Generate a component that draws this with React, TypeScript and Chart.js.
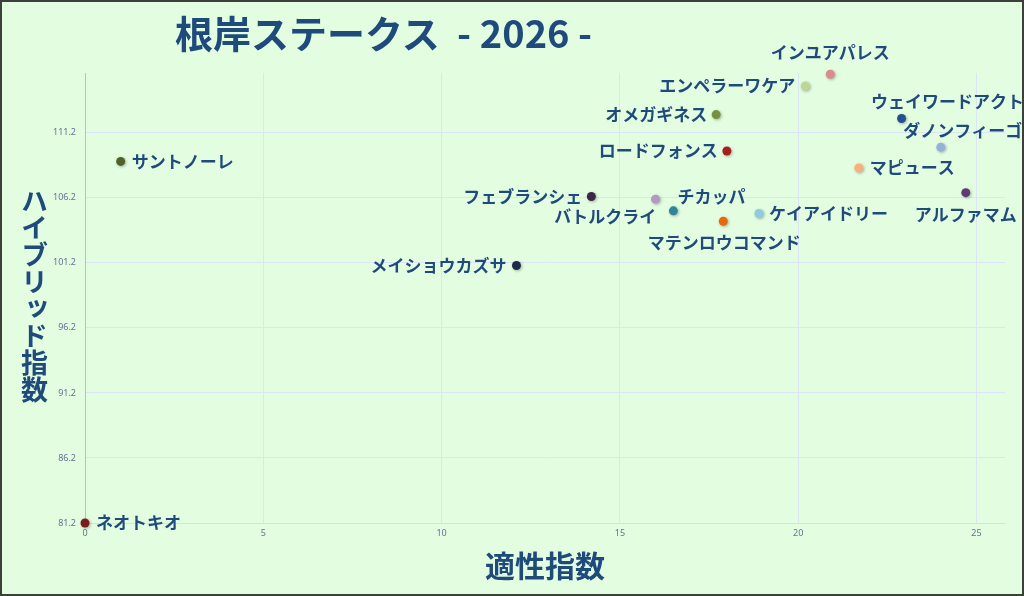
import { useEffect, useRef } from "react";
import { Chart, registerables } from "chart.js";

Chart.register(...registerables);

const horses = [
  "ネオトキオ", "サントノーレ", "メイショウカズサ", "フェブランシェ",
  "チカッパ", "バトルクライ", "マテンロウコマンド", "ケイアイドリー",
  "オメガギネス", "ロードフォンス", "エンペラーワケア", "インユアパレス",
  "ウェイワードアクト", "ダノンフィーゴ", "マピュース", "アルファマム",
];

// 適性指数
const aptitude = [
  0, 1.0, 12.1, 14.2,
  16.0, 16.5, 17.9, 18.9,
  17.7, 18.0, 20.2, 20.9,
  22.9, 24.0, 21.7, 24.7,
];

// ハイブリッド指数
const hybrid = [
  81.2, 109.0, 101.0, 106.3,
  106.1, 105.2, 104.4, 105.0,
  112.6, 109.8, 114.8, 115.7,
  112.3, 110.1, 108.5, 106.6,
];

const xTicks = [0, 5, 10, 15, 20, 25];
const yTicks = [81.2, 86.2, 91.2, 96.2, 101.2, 106.2, 111.2];

const pointColors = [
  "#7a1c1c", "#4f6228", "#1d2b48", "#3d2748",
  "#b497c6", "#2f859a", "#e8680a", "#8fcbe0",
  "#76933c", "#a3201f", "#c0d598", "#dc8a8c",
  "#24508f", "#93b1da", "#f9b07c", "#5c3a72",
];

// label placement: [textAlign, dx, dy] from the point
const labelPlace: [CanvasTextAlign, number, number][] = [
  ["left", 11, 0], ["left", 11, 0], ["right", -10, 0], ["right", -9, 0],
  ["left", 22, -3], ["right", -17, 6], ["center", 1, 21], ["left", 10, 0],
  ["right", -9, 0], ["right", -9, 0], ["right", -10, 0], ["center", 0, -22],
  ["center", 46, -17], ["center", 22, -17], ["left", 11, 0], ["center", 0, 22],
];

const navy = "#1f4a7c";

const labelPlugin = {
  id: "horseLabels",
  beforeDatasetsDraw(chart: Chart) {
    const ctx = chart.ctx;
    ctx.save();
    ctx.shadowColor = "rgba(0,0,0,0.3)";
    ctx.shadowBlur = 3;
    ctx.shadowOffsetX = 1;
    ctx.shadowOffsetY = 1;
  },
  afterDatasetsDraw(chart: Chart) {
    const ctx = chart.ctx;
    ctx.restore();
    const meta = chart.getDatasetMeta(0);
    ctx.save();
    ctx.font = "bold 17px 'Noto Sans CJK JP', sans-serif";
    ctx.fillStyle = navy;
    ctx.textBaseline = "middle";
    meta.data.forEach((pt, i) => {
      const [align, dx, dy] = labelPlace[i];
      ctx.textAlign = align;
      ctx.fillText(horses[i], pt.x + dx, pt.y + dy);
    });
    ctx.restore();
  },
};

export default function App() {
  const canvasRef = useRef<HTMLCanvasElement>(null);

  useEffect(() => {
    if (!canvasRef.current) return;
    const chart = new Chart(canvasRef.current, {
      type: "scatter",
      data: {
        datasets: [
          {
            label: "指数",
            data: horses.map((_, i) => ({ x: aptitude[i], y: hybrid[i] })),
            pointBackgroundColor: pointColors,
            pointBorderWidth: 0,
            pointRadius: 4.5,
            clip: false,
          },
        ],
      },
      options: {
        responsive: false,
        animation: false,
        layout: { padding: { left: 0, top: 73, right: 19, bottom: 53 } },
        scales: {
          x: {
            type: "linear",
            min: 0,
            max: 25.8,
            afterBuildTicks: (scale) => {
              scale.ticks = xTicks.map((v) => ({ value: v }));
            },
            afterFit: (scale) => {
              scale.height = 20;
            },
            grid: { color: "#dbe5f6", drawTicks: false },
            border: { color: "#d3e0f5" },
            ticks: {
              padding: 5,
              color: "#5f7593",
              font: { size: 9, family: "'Noto Sans', sans-serif" },
            },
          },
          y: {
            type: "linear",
            min: 81.2,
            max: 115.8,
            afterBuildTicks: (scale) => {
              scale.ticks = yTicks.map((v) => ({ value: v }));
            },
            afterFit: (scale) => {
              scale.width = 85;
            },
            grid: { color: "#dbe5f6", drawTicks: false },
            border: { color: "#a6c2f2" },
            ticks: {
              padding: 9,
              color: "#5f7593",
              font: { size: 9, family: "'Noto Sans', sans-serif" },
              callback: (v) => Number(v).toFixed(1),
            },
          },
        },
        plugins: {
          legend: { display: false },
          tooltip: { enabled: false },
        },
      },
      plugins: [labelPlugin],
    });
    return () => chart.destroy();
  }, []);

  return (
    <div
      style={{
        position: "absolute",
        left: 0,
        top: 0,
        width: 1024,
        height: 596,
        background: "#e3fde0",
        overflow: "hidden",
        fontFamily: "'Noto Sans CJK JP', sans-serif",
      }}
    >
      <canvas
        ref={canvasRef}
        width={1024}
        height={596}
        style={{ position: "absolute", left: 0, top: 0 }}
      />
      {/* title */}
      <div
        style={{
          position: "absolute",
          left: 175,
          top: 6,
          fontSize: 38,
          fontWeight: 700,
          color: navy,
          whiteSpace: "pre",
          lineHeight: "52px",
        }}
      >
        {"根岸ステークス  - 2026 -"}
      </div>
      {/* y axis title */}
      <div
        style={{
          position: "absolute",
          left: 19,
          top: 187,
          fontSize: 27,
          fontWeight: 700,
          color: navy,
          writingMode: "vertical-rl",
          textOrientation: "upright",
          lineHeight: "30px",
        }}
      >
        ハイブリッド指数
      </div>
      {/* x axis title */}
      <div
        style={{
          position: "absolute",
          left: 445,
          width: 200,
          top: 544,
          textAlign: "center",
          fontSize: 30,
          fontWeight: 700,
          color: navy,
          lineHeight: "40px",
        }}
      >
        適性指数
      </div>
      <div
        style={{
          position: "absolute",
          inset: 0,
          border: "2px solid #3c3f3c",
          pointerEvents: "none",
        }}
      />
    </div>
  );
}
